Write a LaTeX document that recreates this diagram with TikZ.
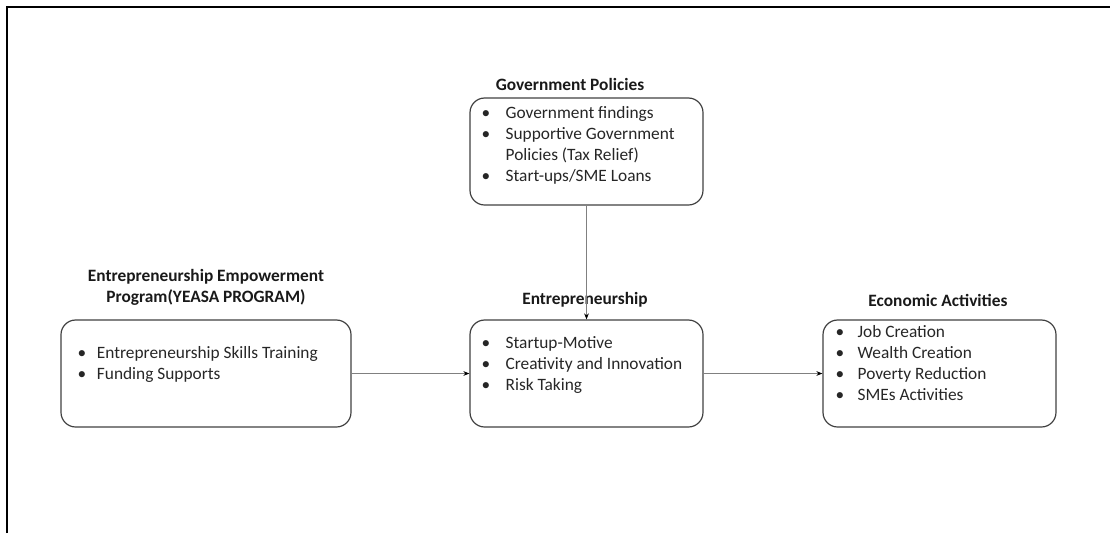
\documentclass[tikz,border=0pt]{standalone}
\usepackage{fontspec}
\setmainfont{Carlito}
\usetikzlibrary{arrows.meta,positioning}

\tikzset{
  panel/.style={draw=black!75, line width=0.9pt, rounded corners=11pt,
    minimum width=174.75pt, minimum height=80.25pt, inner sep=0pt},
  heading/.style={font=\fontsize{13}{15.75}\selectfont\bfseries, align=center,
    inner sep=0pt, text=black!90},
  items/.style={anchor=north west, inner sep=0pt, text=black!85,
    font=\fontsize{13}{15.75}\selectfont},
  link/.style={draw=black!50, line width=0.6pt,
    -{Stealth[length=4.5pt,width=3.5pt,black]}}
}

\begin{document}
\begin{tikzpicture}[x=0.75pt,y=-0.75pt]
\useasboundingbox (0,0) rectangle (1110,533);
% frame
\draw[line width=1.2pt] (7,533) -- (7,7) -- (1110,7);

% boxes
\node[panel] (gov) at (586.5,151.5) {};
\node[panel] (ent) at (586.5,373.5) {};
\node[panel, minimum width=217.5pt] (yeasa) at (206,373.5) {};
\node[panel] (econ) at (939.5,373.5) {};

% headings
\node[heading] (govtitle) at (570,84) {Government Policies};
\node[heading] (yeasatitle) at (206,287.5) {Entrepreneurship Empowerment\\Program(YEASA PROGRAM)};
\node[heading] (enttitle) at (585,300) {Entrepreneurship};
\node[heading] (econtitle) at (938,300) {Economic Activities};

% lists
\node[items] (govlist) at ([shift={(12,6)}]gov.north west)
  {\begin{tabular}{@{}l@{\hspace{11.5pt}}l@{}}
   \textbullet & Government findings\\
   \textbullet & Supportive Government\\
               & Policies (Tax Relief)\\
   \textbullet & Start-ups/SME Loans
   \end{tabular}};
\node[items] (entlist) at ([shift={(12,14)}]ent.north west)
  {\begin{tabular}{@{}l@{\hspace{11.5pt}}l@{}}
   \textbullet & Startup-Motive\\
   \textbullet & Creativity and Innovation\\
   \textbullet & Risk Taking
   \end{tabular}};
\node[items] (yeasalist) at ([shift={(17,24)}]yeasa.north west)
  {\begin{tabular}{@{}l@{\hspace{8pt}}l@{}}
   \textbullet & Entrepreneurship Skills Training\\
   \textbullet & Funding Supports
   \end{tabular}};
\node[items] (econlist) at ([shift={(13,3)}]econ.north west)
  {\begin{tabular}{@{}l@{\hspace{10pt}}l@{}}
   \textbullet & Job Creation\\
   \textbullet & Wealth Creation\\
   \textbullet & Poverty Reduction\\
   \textbullet & SMEs Activities
   \end{tabular}};

% connectors
\draw[link] (gov) -- (ent);
\draw[link] (yeasa) -- (ent);
\draw[link] (ent) -- (econ);
\end{tikzpicture}
\end{document}
